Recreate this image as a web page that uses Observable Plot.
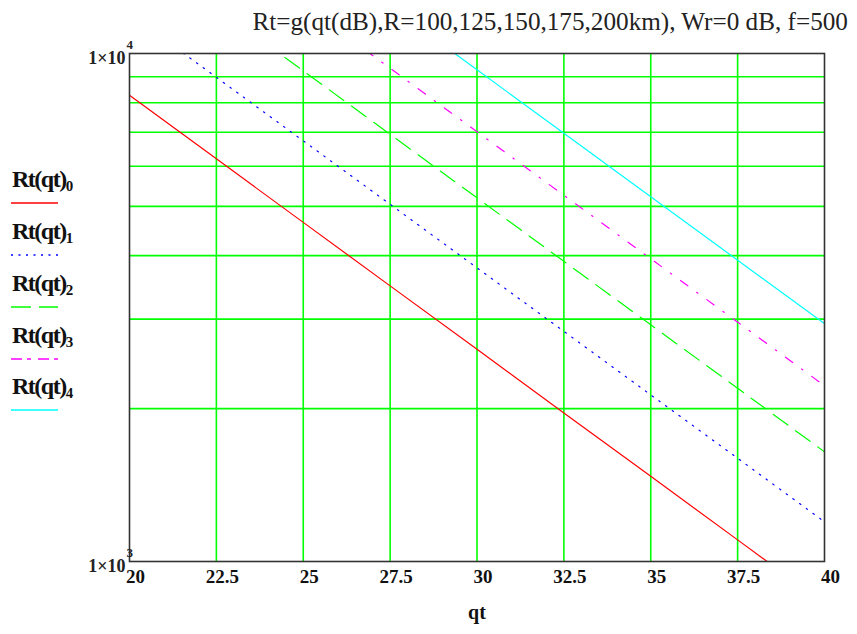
<!DOCTYPE html>
<html>
<head>
<meta charset="utf-8">
<script src="https://cdn.jsdelivr.net/npm/d3@7"></script>
<script src="https://cdn.jsdelivr.net/npm/@observablehq/plot@0.6"></script>
<style>
  html, body { margin: 0; padding: 0; background: #fff; }
  #chart { width: 857px; height: 634px; overflow: hidden; }
</style>
</head>
<body>
<div id="chart"></div>
<script>
// ---- data ----
const titleText = "Rt=g(qt(dB),R=100,125,150,175,200km), Wr=0 dB, f=500";
const xLabel = "qt";
const qt = [20, 22.5, 25, 27.5, 30, 32.5, 35, 37.5, 40];
const rt0 = [8272, 6203, 4651, 3488, 2616, 1961, 1471, 1103, 827];
const rt1 = [11970, 8976, 6731, 5048, 3785, 2838, 2128, 1597, 1197];
const rt2 = [16440, 12328, 9244, 6933, 5198, 3898, 2923, 2193, 1644];
const rt3 = [22180, 16633, 12472, 9353, 7013, 5259, 3944, 2959, 2218];
const rt4 = [29380, 22032, 16520, 12389, 9290, 6966, 5224, 3919, 2938];
const seriesNames = ["Rt(qt)", "Rt(qt)", "Rt(qt)", "Rt(qt)", "Rt(qt)"];
const seriesSubs = ["0", "1", "2", "3", "4"];
const seriesColors = ["#ff0000", "#0000ff", "#00ff00", "#ff00ff", "#00ffff"];
const seriesDash = ["none", "1.5,6.8", "18,9.5", "9,11,1.5,11", "none"];
const legendDash = ["none", "2,5.5", "20,8", "11,5,4,7", "none"];
const xTicks = [20, 22.5, 25, 27.5, 30, 32.5, 35, 37.5, 40];
const xGrid = [22.5, 25, 27.5, 30, 32.5, 35, 37.5];
const yTicks = [1000, 10000];
const yGrid = [2000, 3000, 4000, 5000, 6000, 7000, 8000, 9000];

const allSeries = [rt0, rt1, rt2, rt3, rt4];
const tables = allSeries.map(arr => qt.map((q, i) => ({qt: q, rt: arr[i]})));

const serif = "'Liberation Serif', 'Times New Roman', serif";

const lineMarks = tables.map((t, k) => Plot.line(t, {
  x: "qt", y: "rt",
  stroke: seriesColors[k],
  strokeWidth: 1.2,
  strokeDasharray: seriesDash[k] === "none" ? null : seriesDash[k],
  clip: true
}));

const chart = Plot.plot({
  width: 857,
  height: 634,
  marginLeft: 129,
  marginRight: 33,
  marginTop: 53,
  marginBottom: 73,
  style: {fontFamily: serif, background: "#fff", overflow: "visible"},
  x: {domain: [20, 40]},
  y: {type: "log", domain: [1000, 10000]},
  marks: [
    Plot.ruleX(xGrid, {stroke: "#00ff00", strokeWidth: 1.6}),
    Plot.ruleY(yGrid, {stroke: "#00ff00", strokeWidth: 1.6}),
    ...lineMarks,
    Plot.frame({stroke: "#333", strokeWidth: 1.6}),
    Plot.axisX(xTicks, {
      tickSize: 0, tickPadding: 8, dx: 6, fontSize: 19, fontWeight: "bold",
      tickFormat: d => String(d), label: null, fill: "#111"
    }),
    Plot.axisY({ticks: [], label: null, tickSize: 0}),
    Plot.text(yTicks, {
      x: () => 20, y: d => d, text: () => "1×10",
      textAnchor: "end", dx: -4, dy: 5, fontSize: 18, fontWeight: "bold", fill: "#222"
    }),
    Plot.text(yTicks, {
      x: () => 20, y: d => d, text: d => String(Math.round(Math.log10(d))),
      textAnchor: "start", dx: -3, dy: -9, fontSize: 13, fontWeight: "bold", fill: "#222"
    }),
    Plot.text([xLabel], {
      frameAnchor: "bottom", dy: 57, fontSize: 20, fontWeight: "bold", fill: "#111"
    }),
    Plot.text([titleText], {
      frameAnchor: "top-left", textAnchor: "start", dx: 123, dy: -41,
      fontSize: 25.2, fill: "#222"
    })
  ]
});

document.getElementById("chart").appendChild(chart);

// legend on the left (drawn into the same SVG)
const svg = d3.select(chart);
const lg = svg.append("g").attr("font-family", serif).attr("font-weight", "bold")
  .attr("text-anchor", "start");
const legendLineY = [203, 255, 307, 359, 410];
seriesNames.forEach((name, i) => {
  const y = legendLineY[i];
  const t = lg.append("text").attr("x", 12).attr("y", y - 16)
    .attr("font-size", 24).attr("fill", "#111").attr("text-anchor", "start");
  t.append("tspan").text(name).attr("letter-spacing", "-1.5");
  t.append("tspan").text(seriesSubs[i]).attr("font-size", 15).attr("dy", 4);
  lg.append("line")
    .attr("x1", 11).attr("x2", 58).attr("y1", y).attr("y2", y)
    .attr("stroke", seriesColors[i]).attr("stroke-width", 1.5)
    .attr("stroke-dasharray", legendDash[i] === "none" ? null : legendDash[i]);
});
</script>
</body>
</html>
